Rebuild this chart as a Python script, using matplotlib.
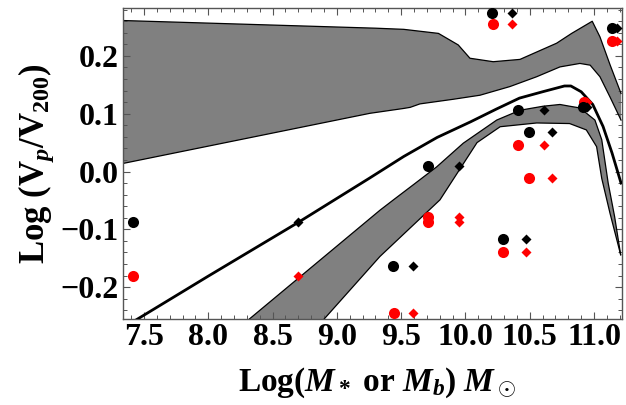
import numpy as np
import matplotlib
matplotlib.use("Agg")
import matplotlib.pyplot as plt
from matplotlib.ticker import MultipleLocator

plt.rcParams['font.family'] = ['Liberation Serif', 'DejaVu Serif']
plt.rcParams['font.weight'] = 'bold'
plt.rcParams['mathtext.fontset'] = 'custom'
plt.rcParams['mathtext.rm'] = 'Liberation Serif:bold'
plt.rcParams['mathtext.it'] = 'Liberation Serif:bold:italic'
plt.rcParams['mathtext.bf'] = 'Liberation Serif:bold'

# Upper gray band
up_top_x = [7.30, 9.30, 9.52, 9.79, 9.944, 10.035, 10.216, 10.424, 10.709, 10.826, 10.986, 11.046, 11.124, 11.21]
up_top_y = [0.2615, 0.248, 0.246, 0.239, 0.219, 0.196, 0.190, 0.194, 0.222, 0.239, 0.260, 0.233, 0.185, 0.135]
up_bot_x = [7.30, 9.257, 9.516, 9.57, 9.646, 9.905, 10.113, 10.346, 10.554, 10.735, 10.89, 10.97, 11.046, 11.124, 11.21]
up_bot_y = [0.0123, 0.1007, 0.109, 0.111, 0.117, 0.125, 0.132, 0.147, 0.164, 0.181, 0.187, 0.184, 0.164, 0.129, 0.089]

# Lower gray band
lo_top_x = [8.08, 8.31, 9.335, 9.452, 9.60, 9.776, 9.983, 10.243, 10.424, 10.605, 10.735, 10.81, 10.89, 11.007, 11.06, 11.11, 11.16, 11.207]
lo_top_y = [-0.30, -0.257, -0.067, -0.047, -0.022, 0.008, 0.049, 0.089, 0.106, 0.113, 0.116, 0.113, 0.110, 0.089, 0.055, -0.020, -0.078, -0.144]
lo_bot_x = [8.72, 8.894, 9.335, 9.802, 10.09, 10.27, 10.554, 10.81, 10.94, 11.02, 11.06, 11.124, 11.207]
lo_bot_y = [-0.30, -0.257, -0.147, -0.049, 0.050, 0.0775, 0.084, 0.083, 0.072, 0.043, -0.012, -0.072, -0.144]

# Black thick line
line_x = [7.40, 8.0, 8.7, 9.25, 9.52, 9.78, 10.04, 10.24, 10.42, 10.6, 10.77, 10.82, 10.9, 10.99, 11.07, 11.14, 11.21]
line_y = [-0.262, -0.181, -0.088, -0.012, 0.026, 0.059, 0.086, 0.108, 0.127, 0.138, 0.148, 0.148, 0.138, 0.116, 0.078, 0.032, -0.020]

# Data points
bc_x = [7.412, 9.439, 9.711, 10.21, 10.294, 10.406, 10.496, 10.916, 11.137]
bc_y = [-0.088, -0.1635, 0.010, 0.274, -0.117, 0.106, 0.068, 0.112, 0.249]
bd_x = [8.695, 9.594, 9.952, 10.364, 10.47, 10.61, 10.673, 10.947, 11.176]
bd_y = [-0.088, -0.1635, 0.010, 0.274, -0.117, 0.106, 0.068, 0.112, 0.249]
rc_x = [7.412, 9.444, 9.711, 9.711, 10.216, 10.294, 10.406, 10.496, 10.924, 11.137]
rc_y = [-0.180, -0.244, -0.078, -0.087, 0.255, -0.139, 0.046, -0.011, 0.120, 0.226]
rd_x = [8.695, 9.594, 9.952, 9.952, 10.364, 10.47, 10.61, 10.673, 10.947, 11.176]
rd_y = [-0.180, -0.244, -0.078, -0.087, 0.255, -0.139, 0.046, -0.011, 0.120, 0.226]

xticks = [7.5, 8.0, 8.5, 9.0, 9.5, 10.0, 10.5, 11.0]
yticks = [-0.2, -0.1, 0.0, 0.1, 0.2]

fig = plt.figure(figsize=(6.26, 4.05), dpi=100)
ax = fig.add_axes([0.1965, 0.2116, 0.7966, 0.7679])

gray = '#808080'
ax.fill(np.concatenate([up_top_x, up_bot_x[::-1]]), np.concatenate([up_top_y, up_bot_y[::-1]]),
        facecolor=gray, edgecolor='none', zorder=1)
ax.plot(up_top_x, up_top_y, color='black', lw=0.9, zorder=2)
ax.plot(up_bot_x, up_bot_y, color='black', lw=0.9, zorder=2)
ax.fill(np.concatenate([lo_top_x, lo_bot_x[::-1]]), np.concatenate([lo_top_y, lo_bot_y[::-1]]),
        facecolor=gray, edgecolor='none', zorder=1)
ax.plot(lo_top_x, lo_top_y, color='black', lw=0.9, zorder=2)
ax.plot(lo_bot_x, lo_bot_y, color='black', lw=0.9, zorder=2)

ax.plot(line_x, line_y, color='black', lw=2.0, zorder=3, solid_joinstyle='round')

ax.plot(rc_x, rc_y, 'o', color='red', ms=8.0, mec='none', zorder=4)
ax.plot(rd_x, rd_y, 'D', color='red', ms=4.8, mec='none', zorder=4)
ax.plot(bc_x, bc_y, 'o', color='black', ms=8.0, mec='none', zorder=5)
ax.plot(bd_x, bd_y, 'D', color='black', ms=4.8, mec='none', zorder=5)

ax.set_xlim(7.337, 11.215)
ax.set_ylim(-0.2557, 0.2824)
ax.set_xticks(xticks)
ax.set_xticklabels([f'{t:.1f}' for t in xticks])
ax.set_yticks(yticks)
ax.set_yticklabels([f'{t:.1f}'.replace('-', '\u2212') for t in yticks])
ax.xaxis.set_minor_locator(MultipleLocator(0.1))
ax.yaxis.set_minor_locator(MultipleLocator(0.02))
ax.tick_params(which='both', direction='in', top=True, right=True, color='#555555')
ax.tick_params(which='major', length=5, width=0.8, labelsize=23, pad=3)
ax.tick_params(which='minor', length=3, width=0.7)
for s in ax.spines.values():
    s.set_color('#555555')
    s.set_linewidth(1.0)

ax.set_xlabel(r'Log($M_*$ or $M_b$) $M_\odot$', fontsize=24, fontweight='bold')
ax.set_ylabel(r'Log (V$_p$/V$_{200}$)', fontsize=25, fontweight='bold')
ax.xaxis.set_label_coords(0.51, -0.15)
ax.yaxis.set_label_coords(-0.135, 0.5)

fig.savefig('out.png', dpi=100)
